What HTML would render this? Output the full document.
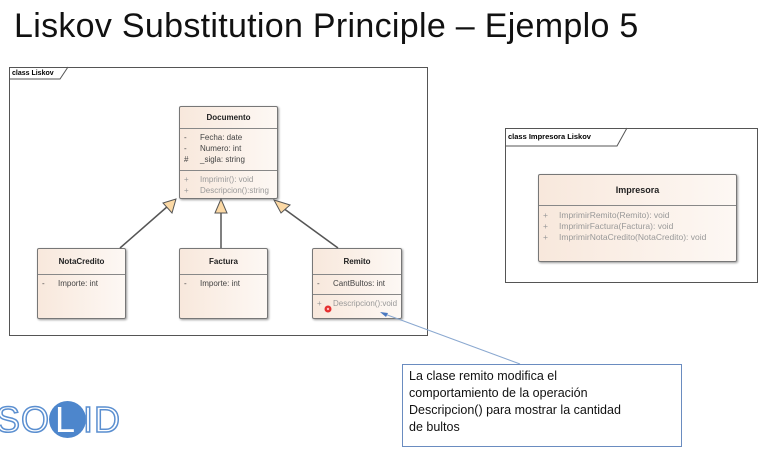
<!DOCTYPE html>
<html><head><meta charset="utf-8"><style>
body{margin:0;width:783px;height:456px;background:#fff;position:relative;overflow:hidden;font-family:"Liberation Sans",sans-serif}
.a{position:absolute}
.box{position:absolute;border:1px solid #777;background:linear-gradient(90deg,#f8e8dc,#fdf8f4);box-shadow:1px 1px 2px #999;border-radius:2px;font-size:8px;color:#444}
.hd{text-align:center;font-weight:bold;color:#222;border-bottom:1px solid #888}
.r{position:relative;padding-left:20px;line-height:11px;white-space:nowrap}
.r span{position:absolute;left:4px}
.g{color:#999}
</style></head><body>
<div class="a" style="left:14px;top:7px;font-size:34px;color:#111;letter-spacing:0.3px">Liskov Substitution Principle – Ejemplo 5</div>

<div class="a" style="left:9px;top:67px;width:417px;height:267px;border:1px solid #555"></div>
<div class="a" style="left:12px;top:70px;font-size:7px;font-weight:bold">class Liskov</div>

<div class="box" style="left:179px;top:106px;width:97px;height:91px">
<div class="hd" style="height:21px;line-height:21px">Documento</div>
<div style="padding-top:3px;border-bottom:1px solid #888;height:38px">
<div class="r"><span>-</span>Fecha: date</div><div class="r"><span>-</span>Numero: int</div><div class="r"><span>#</span>_sigla: string</div></div>
<div class="g" style="padding-top:3px"><div class="r"><span>+</span>Imprimir(): void</div><div class="r"><span>+</span>Descripcion():string</div></div>
</div>

<div class="box" style="left:37px;top:248px;width:87px;height:69px"><div class="hd" style="height:25px;line-height:25px">NotaCredito</div><div style="padding-top:3px"><div class="r"><span>-</span>Importe: int</div></div></div>
<div class="box" style="left:179px;top:248px;width:87px;height:69px"><div class="hd" style="height:25px;line-height:25px">Factura</div><div style="padding-top:3px"><div class="r"><span>-</span>Importe: int</div></div></div>
<div class="box" style="left:312px;top:248px;width:88px;height:69px"><div class="hd" style="height:25px;line-height:25px">Remito</div><div style="padding-top:3px;height:16px;border-bottom:1px solid #888"><div class="r"><span>-</span>CantBultos: int</div></div><div class="g" style="padding-top:3px"><div class="r"><span>+</span>Descripcion():void</div></div></div>

<div class="a" style="left:505px;top:128px;width:251px;height:153px;border:1px solid #555"></div>
<div class="a" style="left:508px;top:132px;font-size:7.5px;font-weight:bold">class Impresora Liskov</div>
<div class="box" style="left:538px;top:174px;width:197px;height:86px"><div class="hd" style="height:30px;line-height:30px;font-size:9px">Impresora</div>
<div class="g" style="padding-top:4px;font-size:8.5px"><div class="r"><span>+</span>ImprimirRemito(Remito): void</div><div class="r"><span>+</span>ImprimirFactura(Factura): void</div><div class="r"><span>+</span>ImprimirNotaCredito(NotaCredito): void</div></div></div>

<svg class="a" style="left:0;top:0" width="783" height="456">
<path d="M9 79 H60 L68 67" fill="none" stroke="#555"/>
<path d="M505 146 H617 L627 128" fill="none" stroke="#555"/>
<g stroke="#555" stroke-width="1.5">
<line x1="120" y1="248" x2="168" y2="206"/>
<line x1="221" y1="248" x2="221" y2="212"/>
<line x1="338" y1="248" x2="283" y2="208"/>
</g>
<g fill="#fcd9a5" stroke="#555">
<polygon points="176,199 172,213 163,203"/>
<polygon points="221,199 215,213 227,213"/>
<polygon points="274,200 290,205 281,213"/>
</g>
<line x1="520" y1="364" x2="382" y2="313" stroke="#8aa8d0"/>
<polygon points="380,312 388,313 386,317" fill="#4a78c0"/>
<circle cx="328" cy="309" r="3.5" fill="#e53030"/>
<circle cx="328" cy="309" r="1.2" fill="#fbb"/>
</svg>

<div class="a" style="left:402px;top:364px;width:272px;height:78px;border:1px solid #6a8cc0;padding:3px 0 0 6px;font-size:12.5px;line-height:17px;color:#111">La clase remito modifica el<br>comportamiento de la operación<br>Descripcion() para mostrar la cantidad<br>de bultos</div>

<div class="a" style="left:49px;top:401px;width:37px;height:37px;border-radius:50%;background:#4d86cc"></div>
<div class="a" style="left:-4px;top:400px;font-size:36px;color:#fff;-webkit-text-stroke:1.5px #5b8fd0;letter-spacing:1px;line-height:40px">SO<span style="-webkit-text-stroke:0;color:#fff;margin:0 7px 0 5px">L</span>ID</div>
</body></html>
